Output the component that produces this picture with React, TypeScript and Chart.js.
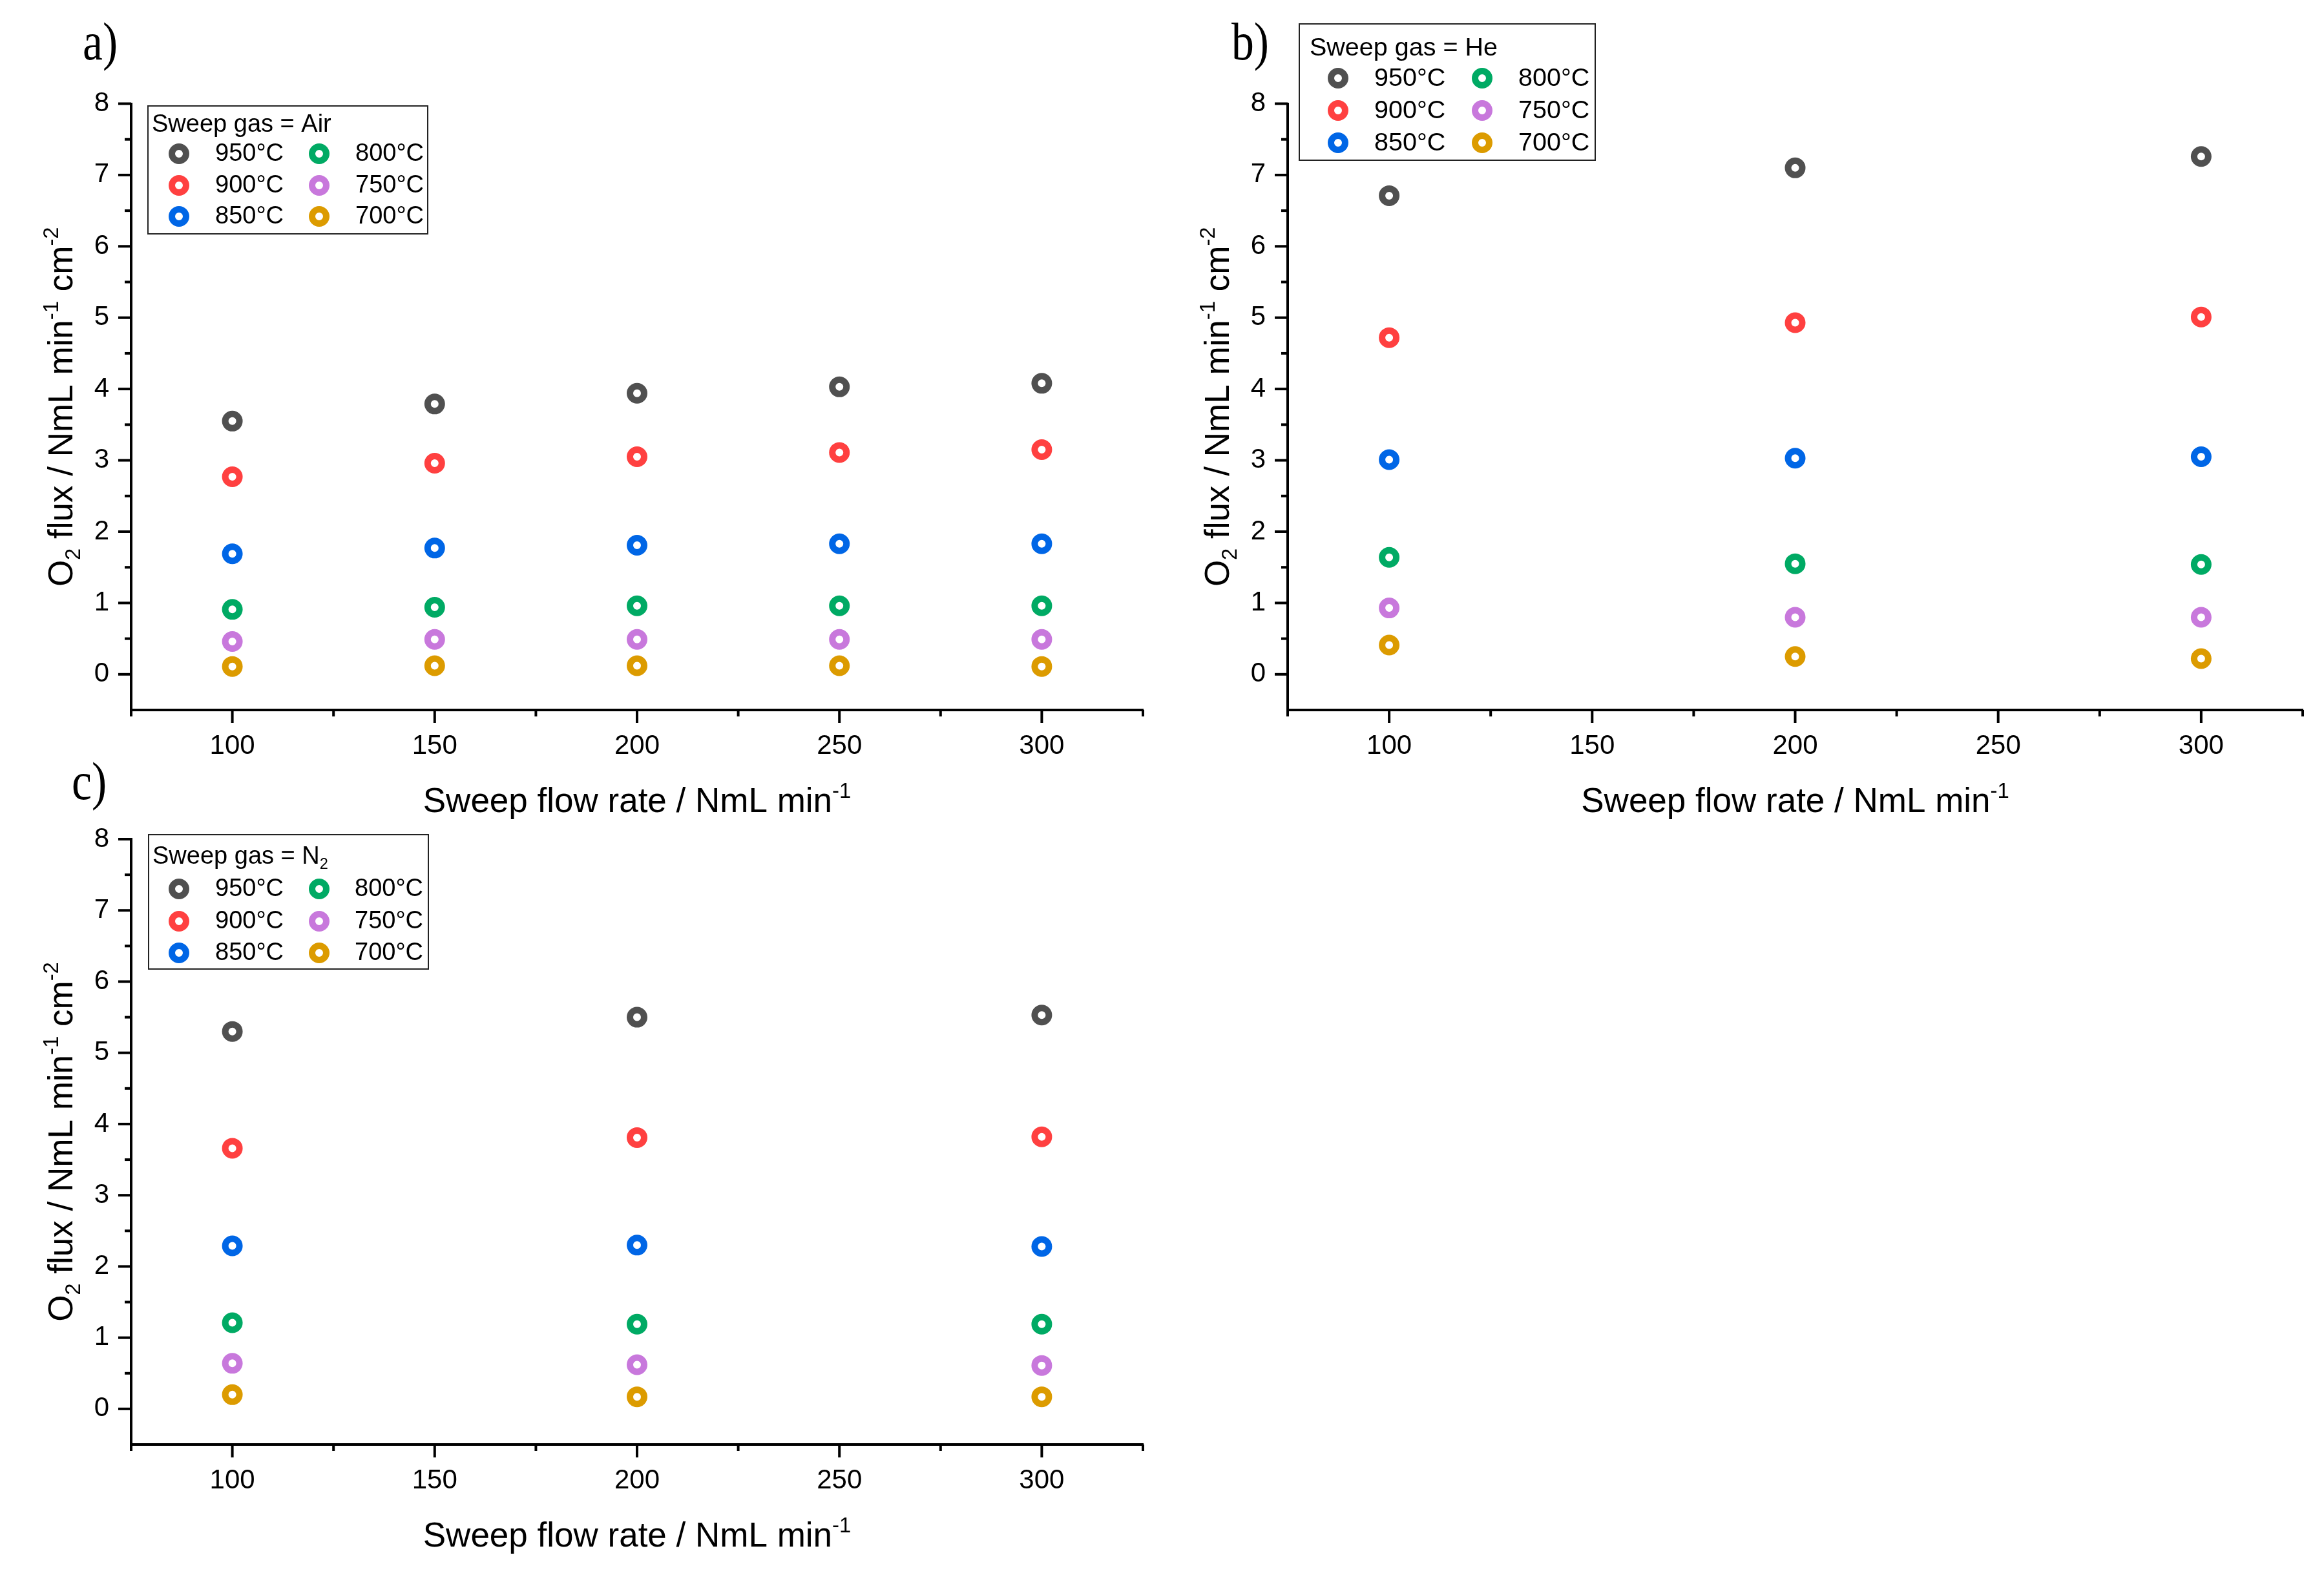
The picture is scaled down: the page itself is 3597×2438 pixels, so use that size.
import React, { useEffect, useRef } from 'react';
import { Chart, registerables } from 'chart.js';

Chart.register(...registerables);

// ---------------- data ----------------
const temperatureLabels = ['950°C', '900°C', '850°C', '800°C', '750°C', '700°C'];
const seriesColors = ['#505050', '#FF4040', '#0066E6', '#00AA64', '#C878DC', '#DC9B00'];

const airFlow = [100, 150, 200, 250, 300];
const heFlow = [100, 200, 300];
const n2Flow = [100, 200, 300];

// rows follow temperatureLabels order
const airFlux = [
  [3.55, 3.79, 3.94, 4.03, 4.08],
  [2.77, 2.96, 3.05, 3.11, 3.15],
  [1.69, 1.77, 1.81, 1.83, 1.83],
  [0.91, 0.94, 0.96, 0.96, 0.96],
  [0.46, 0.49, 0.49, 0.49, 0.49],
  [0.11, 0.12, 0.12, 0.12, 0.11],
];
const heFlux = [
  [6.71, 7.10, 7.26],
  [4.72, 4.93, 5.01],
  [3.01, 3.03, 3.05],
  [1.64, 1.55, 1.54],
  [0.93, 0.80, 0.80],
  [0.41, 0.25, 0.22],
];
const n2Flux = [
  [5.30, 5.50, 5.53],
  [3.66, 3.81, 3.82],
  [2.29, 2.30, 2.28],
  [1.21, 1.19, 1.19],
  [0.64, 0.62, 0.61],
  [0.20, 0.17, 0.17],
];

const xMin = 75;
const xMax = 325;
const xStep = 25;
const xLabelStep = 50;
const yMin = -0.5;
const yMax = 8;
const yStep = 0.5;

// ---------------- styling / layout ----------------
const SANS = "'Liberation Sans', Arial, sans-serif";
const SERIF = "'Liberation Serif', 'Times New Roman', serif";
const YW = 150;
const XH = 100;

type Seg = { t: string; m?: 'sub' | 'sup' };

const xTitleSegs: Seg[] = [{ t: 'Sweep flow rate / NmL min' }, { t: '-1', m: 'sup' }];
const yTitleSegs: Seg[] = [
  { t: 'O' }, { t: '2', m: 'sub' }, { t: ' flux / NmL min' }, { t: '-1', m: 'sup' },
  { t: ' cm' }, { t: '-2', m: 'sup' },
];

type PanelSpec = {
  key: string;
  ox: number; oy: number; w: number; h: number;
  area: { left: number; right: number; top: number; bottom: number };
  flow: number[];
  flux: number[][];
  label: string; labelX: number; labelY: number;
  legendTitle: Seg[];
  box: { x: number; y: number; w: number; h: number };
  titleX: number; titleBase: number;
  rows: number[]; markerX: number[]; textX: number[]; legendFont: number;
};

const panels: PanelSpec[] = [
  {
    key: 'a', ox: 0, oy: 0, w: 1800, h: 1290,
    area: { left: 203, right: 1770, top: 160.5, bottom: 1099 },
    flow: airFlow, flux: airFlux,
    label: 'a)', labelX: 128, labelY: 92,
    legendTitle: [{ t: 'Sweep gas = Air' }],
    box: { x: 229, y: 164, w: 433, h: 198 },
    titleX: 235, titleBase: 204,
    rows: [238, 287, 335], markerX: [277, 494], textX: [333, 550], legendFont: 38,
  },
  {
    key: 'b', ox: 1800, oy: 0, w: 1797, h: 1290,
    area: { left: 1993, right: 3564, top: 160.5, bottom: 1099 },
    flow: heFlow, flux: heFlux,
    label: 'b)', labelX: 1906, labelY: 92,
    legendTitle: [{ t: 'Sweep gas = He' }],
    box: { x: 2011, y: 37, w: 458, h: 211 },
    titleX: 2027, titleBase: 86,
    rows: [121, 171, 221], markerX: [2071, 2294], textX: [2127, 2350], legendFont: 39.5,
  },
  {
    key: 'c', ox: 0, oy: 1170, w: 1800, h: 1268,
    area: { left: 203, right: 1770, top: 1299, bottom: 2236 },
    flow: n2Flow, flux: n2Flux,
    label: 'c)', labelX: 111, labelY: 1237,
    legendTitle: [{ t: 'Sweep gas = N' }, { t: '2', m: 'sub' }],
    box: { x: 230, y: 1292, w: 433, h: 208 },
    titleX: 236, titleBase: 1337,
    rows: [1376, 1426, 1475], markerX: [277, 494], textX: [333, 549], legendFont: 38,
  },
];

function segFont(seg: Seg, size: number) {
  return `${seg.m ? size * 0.62 : size}px ${SANS}`;
}

function drawRich(ctx: CanvasRenderingContext2D, segs: Seg[], x: number, y: number, size: number, align: 'left' | 'center') {
  let total = 0;
  const widths = segs.map((s) => {
    ctx.font = segFont(s, size);
    const w = ctx.measureText(s.t).width;
    total += w;
    return w;
  });
  let cx = align === 'center' ? x - total / 2 : x;
  ctx.textAlign = 'left';
  ctx.textBaseline = 'alphabetic';
  segs.forEach((s, i) => {
    ctx.font = segFont(s, size);
    const dy = s.m === 'sup' ? -size * 0.42 : s.m === 'sub' ? size * 0.22 : 0;
    ctx.fillText(s.t, cx, y + dy);
    cx += widths[i];
  });
}

function ring(ctx: CanvasRenderingContext2D, x: number, y: number, color: string) {
  ctx.beginPath();
  ctx.arc(x, y, 11, 0, Math.PI * 2);
  ctx.fillStyle = '#fff';
  ctx.fill();
  ctx.lineWidth = 10;
  ctx.strokeStyle = color;
  ctx.stroke();
}

function makeDecor(p: PanelSpec) {
  return {
    id: 'decor_' + p.key,
    afterDraw(chart: any) {
      const ctx: CanvasRenderingContext2D = chart.ctx;
      const { left, right, top, bottom } = chart.chartArea;
      const xs = chart.scales.x;
      const ys = chart.scales.y;
      ctx.save();
      // tick marks
      ctx.strokeStyle = '#000';
      ctx.lineWidth = 4;
      ctx.lineCap = 'butt';
      xs.ticks.forEach((t: any) => {
        const px = xs.getPixelForValue(t.value);
        const len = t.value % xLabelStep === 0 ? 20 : 10;
        ctx.beginPath();
        ctx.moveTo(px, bottom);
        ctx.lineTo(px, bottom + len);
        ctx.stroke();
      });
      ys.ticks.forEach((t: any) => {
        if (t.value === yMin) return;
        const py = ys.getPixelForValue(t.value);
        const len = Number.isInteger(t.value) ? 20 : 10;
        ctx.beginPath();
        ctx.moveTo(left, py);
        ctx.lineTo(left - len, py);
        ctx.stroke();
      });

      ctx.fillStyle = '#000';
      // x title
      drawRich(ctx, xTitleSegs, (left + right) / 2, bottom + 158, 53, 'center');
      // y title
      ctx.save();
      ctx.translate(left - 91, (top + bottom) / 2);
      ctx.rotate(-Math.PI / 2);
      drawRich(ctx, yTitleSegs, 0, 0, 53, 'center');
      ctx.restore();

      // panel label
      ctx.save();
      ctx.translate(p.labelX - p.ox, p.labelY - p.oy);
      ctx.scale(0.85, 1);
      ctx.font = `82px ${SERIF}`;
      ctx.textAlign = 'left';
      ctx.textBaseline = 'alphabetic';
      ctx.fillStyle = '#000';
      ctx.fillText(p.label, 0, 0);
      ctx.restore();

      // legend
      const bx = p.box.x - p.ox;
      const by = p.box.y - p.oy;
      ctx.fillStyle = '#fff';
      ctx.fillRect(bx, by, p.box.w, p.box.h);
      ctx.lineWidth = 2;
      ctx.strokeStyle = '#222';
      ctx.strokeRect(bx, by, p.box.w, p.box.h);
      ctx.fillStyle = '#000';
      drawRich(ctx, p.legendTitle, p.titleX - p.ox, p.titleBase - p.oy, p.legendFont, 'left');
      chart.data.datasets.forEach((ds: any, i: number) => {
        const col = Math.floor(i / 3);
        const row = i % 3;
        const cy = p.rows[row] - p.oy;
        ring(ctx, p.markerX[col] - p.ox, cy, ds.borderColor);
        ctx.fillStyle = '#000';
        ctx.font = `${p.legendFont}px ${SANS}`;
        ctx.textAlign = 'left';
        ctx.textBaseline = 'middle';
        ctx.fillText(ds.label, p.textX[col] - p.ox, cy + 1);
      });
      ctx.restore();
    },
  };
}

function Panel({ spec }: { spec: PanelSpec }) {
  const ref = useRef<HTMLCanvasElement | null>(null);
  useEffect(() => {
    if (!ref.current) return;
    const p = spec;
    const datasets = temperatureLabels.map((lab, k) => ({
      type: 'scatter' as const,
      label: lab,
      data: p.flow.map((x, i) => ({ x, y: p.flux[k][i] })),
      borderColor: seriesColors[k],
      backgroundColor: '#ffffff',
      pointRadius: 11,
      pointHoverRadius: 11,
      pointBorderWidth: 10,
      pointHoverBorderWidth: 10,
      showLine: false,
    }));
    const chart = new Chart(ref.current, {
      type: 'scatter',
      data: { datasets },
      options: {
        animation: false,
        responsive: false,
        devicePixelRatio: 1,
        events: [],
        layout: {
          padding: {
            left: p.area.left - p.ox - YW,
            top: p.area.top - p.oy,
            right: p.ox + p.w - p.area.right,
            bottom: p.oy + p.h - p.area.bottom - XH,
          },
        },
        plugins: { legend: { display: false }, tooltip: { enabled: false } },
        scales: {
          x: {
            type: 'linear',
            min: xMin,
            max: xMax,
            afterFit: (s: any) => { s.height = XH; },
            ticks: {
              stepSize: xStep,
              autoSkip: false,
              maxRotation: 0,
              padding: 31,
              color: '#000',
              font: { family: SANS, size: 42 },
              callback: (v: any) => (Number(v) % xLabelStep === 0 ? String(v) : ''),
            },
            grid: { display: true, drawOnChartArea: false, drawTicks: false },
            border: { display: true, color: '#000', width: 4 },
          },
          y: {
            type: 'linear',
            min: yMin,
            max: yMax,
            afterFit: (s: any) => { s.width = YW; },
            ticks: {
              stepSize: yStep,
              autoSkip: false,
              padding: 34,
              color: '#000',
              font: { family: SANS, size: 42 },
              callback: (v: any) => (Number.isInteger(Number(v)) ? String(v) : ''),
            },
            grid: { display: true, drawOnChartArea: false, drawTicks: false },
            border: { display: true, color: '#000', width: 4 },
          },
        },
      } as any,
      plugins: [makeDecor(p)],
    });
    return () => chart.destroy();
  }, [spec]);
  return (
    <canvas
      ref={ref}
      width={spec.w}
      height={spec.h}
      style={{ position: 'absolute', left: spec.ox, top: spec.oy, width: spec.w, height: spec.h }}
    />
  );
}

export default function App() {
  return (
    <div style={{ position: 'absolute', left: 0, top: 0, width: 3597, height: 2438, background: '#fff', overflow: 'hidden' }}>
      {panels.map((p) => (
        <Panel key={p.key} spec={p} />
      ))}
    </div>
  );
}
